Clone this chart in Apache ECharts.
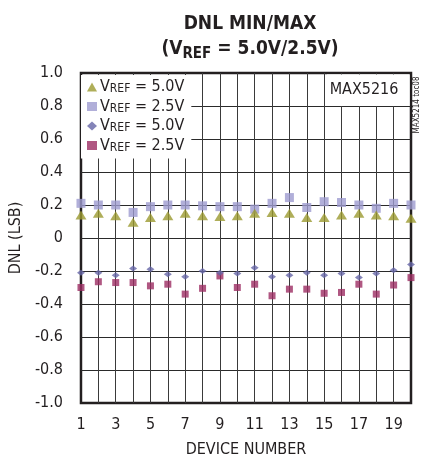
<!DOCTYPE html>
<html>
<head>
<meta charset="utf-8">
<script src="https://cdn.jsdelivr.net/npm/echarts@6/dist/echarts.min.js"></script>
<style>html,body{margin:0;padding:0;background:#fff;}#c{width:422px;height:463px;}</style>
</head>
<body>
<div id="c"></div>
<script>
var devices = [1,2,3,4,5,6,7,8,9,10,11,12,13,14,15,16,17,18,19,20];
var max50 = [0.14,0.15,0.135,0.095,0.125,0.135,0.15,0.135,0.13,0.135,0.15,0.155,0.15,0.125,0.125,0.14,0.15,0.14,0.135,0.12];
var max25 = [0.21,0.20,0.20,0.155,0.19,0.20,0.20,0.195,0.19,0.19,0.175,0.21,0.245,0.185,0.22,0.215,0.20,0.18,0.21,0.20];
var min50 = [-0.21,-0.21,-0.225,-0.185,-0.19,-0.22,-0.235,-0.20,-0.21,-0.215,-0.18,-0.235,-0.225,-0.21,-0.225,-0.215,-0.24,-0.215,-0.195,-0.16];
var min25 = [-0.30,-0.265,-0.27,-0.27,-0.29,-0.28,-0.34,-0.305,-0.23,-0.30,-0.28,-0.35,-0.31,-0.31,-0.335,-0.33,-0.28,-0.34,-0.285,-0.24];
var seriesNames = ['max50','max25','min50','min25'];
var legendLabels = {max50:'5.0V', max25:'2.5V', min50:'5.0V', min25:'2.5V'};
var titleLine1 = 'DNL MIN/MAX';
var xName = 'DEVICE NUMBER';
var yName = 'DNL (LSB)';
var partNo = 'MAX5216';
var tocNo = 'MAX5214 toc08';

var FONT = "'Liberation Sans Narrow','DejaVu Sans Condensed','Arial Narrow',sans-serif";
function pairs(vals){ return devices.map(function(d,i){ return [d, vals[i]]; }); }

var chart = echarts.init(document.getElementById('c'), null, {renderer:'canvas'});
chart.setOption({
  backgroundColor:'#fff',
  animation:false,
  title:{
    text:'{t|' + titleLine1 + '}\n{t|(V}{s|REF}{t| = 5.0V/2.5V)}',
    left:245, top:7, textAlign:'center',
    textStyle:{
      rich:{
        t:{fontFamily:FONT, fontWeight:'bold', fontSize:19, color:'#231f20', lineHeight:25},
        s:{fontFamily:FONT, fontWeight:'bold', fontSize:15, color:'#231f20', lineHeight:15, verticalAlign:'bottom'}
      }
    }
  },
  legend:{
    orient:'vertical', left:81, top:75,
    backgroundColor:'#fff',
    padding:[4,7,5,6],
    itemGap:3.5, itemWidth:10, itemHeight:9,
    data:seriesNames,
    formatter:function(n){ return '{a|V}{b|REF}{a| = ' + legendLabels[n] + '}'; },
    textStyle:{
      padding:[0,0,0,-2],
      rich:{
        a:{fontFamily:FONT, fontSize:16, color:'#231f20', lineHeight:16},
        b:{fontFamily:FONT, fontSize:12, color:'#231f20', lineHeight:12, verticalAlign:'bottom'}
      }
    }
  },
  grid:{left:80, right:11, top:73, bottom:58, show:true, borderColor:'#231f20', borderWidth:2.5, backgroundColor:'#fff'},
  xAxis:{
    type:'value', min:1, max:20, interval:1,
    name:xName, nameLocation:'middle', nameGap:39,
    nameTextStyle:{fontFamily:FONT, fontSize:16, color:'#231f20'},
    axisLine:{show:false}, axisTick:{show:false},
    axisLabel:{fontFamily:FONT, fontSize:16, color:'#231f20', margin:14,
      formatter:function(v){ return (v % 2 === 1) ? String(v) : ''; }},
    splitLine:{show:true, showMinLine:false, showMaxLine:false, lineStyle:{color:'#3a3a3a', width:1}}
  },
  yAxis:{
    type:'value', min:-1, max:1, interval:0.2,
    name:yName, nameLocation:'middle', nameGap:56, nameRotate:90,
    nameTextStyle:{fontFamily:FONT, fontSize:16, color:'#231f20'},
    axisLine:{show:false}, axisTick:{show:false},
    axisLabel:{fontFamily:FONT, fontSize:16, color:'#231f20', margin:18,
      formatter:function(v){ return Math.abs(v) < 1e-9 ? '0' : v.toFixed(1); }},
    splitLine:{show:true, showMinLine:false, showMaxLine:false, lineStyle:{color:'#2a2a2a', width:1}}
  },
  series:[
    {name:'max50', type:'scatter', data:pairs(max50), symbol:'triangle', symbolSize:[11,9], itemStyle:{color:'#9b9a2f'}, z:3},
    {name:'max25', type:'scatter', data:pairs(max25), symbol:'rect', symbolSize:9, itemStyle:{color:'#9d9bd0'}, z:2},
    {name:'min50', type:'scatter', data:pairs(min50), symbol:'diamond', symbolSize:[8,6], itemStyle:{color:'#6565a6'}, z:3},
    {name:'min25', type:'scatter', data:pairs(min25), symbol:'rect', symbolSize:7, itemStyle:{color:'#9c2d63'}, z:2}
  ],
  graphic:[
    {type:'rect', shape:{x:327, y:74.5, width:82.5, height:31.5}, style:{fill:'#fff'}, z:10},
    {type:'text', x:364, y:90, z:11, style:{text:partNo, fontFamily:FONT, fontSize:16, fill:'#231f20', align:'center', verticalAlign:'middle'}},
    {type:'text', x:417, y:105, rotation:Math.PI/2, z:11, style:{text:tocNo, fontFamily:FONT, fontSize:8, fill:'#231f20', align:'center', verticalAlign:'middle'}}
  ]
});
</script>
</body>
</html>
